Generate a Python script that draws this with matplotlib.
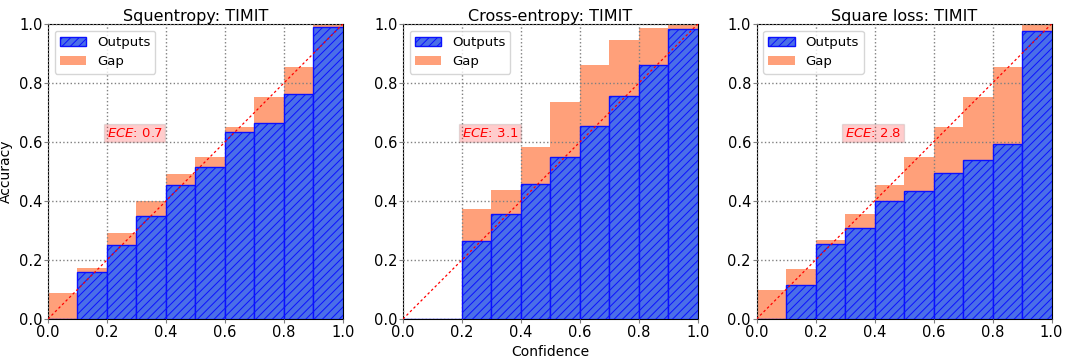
import matplotlib
matplotlib.use("Agg")
import matplotlib.pyplot as plt
import numpy as np

titles = ["Squentropy: TIMIT", "Cross-entropy: TIMIT", "Square loss: TIMIT"]
ece_values = ["0.7", "3.1", "2.8"]
ece_x = [0.2, 0.2, 0.3]

bin_edges = [0.0, 0.1, 0.2, 0.3, 0.4, 0.5, 0.6, 0.7, 0.8, 0.9]

outputs_sq = [0.0, 0.159, 0.251, 0.349, 0.454, 0.515, 0.633, 0.664, 0.763, 0.991]
gap_top_sq = [0.087, 0.173, 0.290, 0.399, 0.492, 0.549, 0.651, 0.753, 0.854, 1.0]

outputs_ce = [0.0, 0.0, 0.266, 0.357, 0.459, 0.550, 0.655, 0.757, 0.861, 0.983]
gap_top_ce = [0.0, 0.0, 0.373, 0.436, 0.583, 0.734, 0.861, 0.944, 0.986, 1.0]

outputs_sl = [0.0, 0.115, 0.254, 0.308, 0.400, 0.434, 0.495, 0.539, 0.593, 0.976]
gap_top_sl = [0.098, 0.171, 0.269, 0.356, 0.454, 0.549, 0.651, 0.753, 0.854, 1.0]

outputs_all = [outputs_sq, outputs_ce, outputs_sl]
gaps_all = [gap_top_sq, gap_top_ce, gap_top_sl]

plt.rcParams['hatch.color'] = '#1030f0'
plt.rcParams['hatch.linewidth'] = 0.7

fig = plt.figure(figsize=(10.66, 3.62), dpi=100)
lefts = [0.045, 0.378, 0.7097]
for i in range(3):
    ax = fig.add_axes([lefts[i], 0.1188, 0.2767, 0.815])
    out = np.array(outputs_all[i])
    gt = np.array(gaps_all[i])
    lo = np.minimum(out, gt)
    hi = np.maximum(out, gt)
    gap_b = ax.bar(bin_edges, hi - lo, bottom=lo, width=0.1, align='edge',
                   color='#ffa07a', edgecolor='none', label='Gap', zorder=2)
    out_b = ax.bar(bin_edges, out, width=0.1, align='edge',
                   color='#4a6ee8', edgecolor='#0a10ff', linewidth=1.0,
                   hatch='////', label='Outputs', zorder=3)
    ax.plot([0, 1], [0, 1], color='red', linestyle=(0, (2, 2)), linewidth=0.9, zorder=6)
    ax.set_xlim(0, 1)
    ax.set_ylim(0, 1)
    ax.set_xticks(np.arange(0, 1.01, 0.2))
    ax.set_yticks(np.arange(0, 1.01, 0.2))
    ax.tick_params(labelsize=10.5, length=3, pad=1, color='gray')
    ax.grid(True, color='gray', linestyle=':', linewidth=1.0, zorder=5)
    ax.set_axisbelow(False)
    ax.set_title(titles[i], fontsize=11.5, pad=2)
    ax.legend(handles=[out_b, gap_b], loc='upper left', fontsize=9.5)
    ax.text(ece_x[i], 0.63, "$ECE$: " + ece_values[i], color='red', fontsize=9.5,
            va='center', ha='left',
            bbox=dict(facecolor='red', alpha=0.2, edgecolor='gray', pad=2), zorder=7)
    if i == 0:
        ax.set_ylabel('Accuracy', fontsize=10, labelpad=4)
    if i == 1:
        ax.set_xlabel('Confidence', fontsize=10, labelpad=4)

fig.savefig('out.png', dpi=100)
